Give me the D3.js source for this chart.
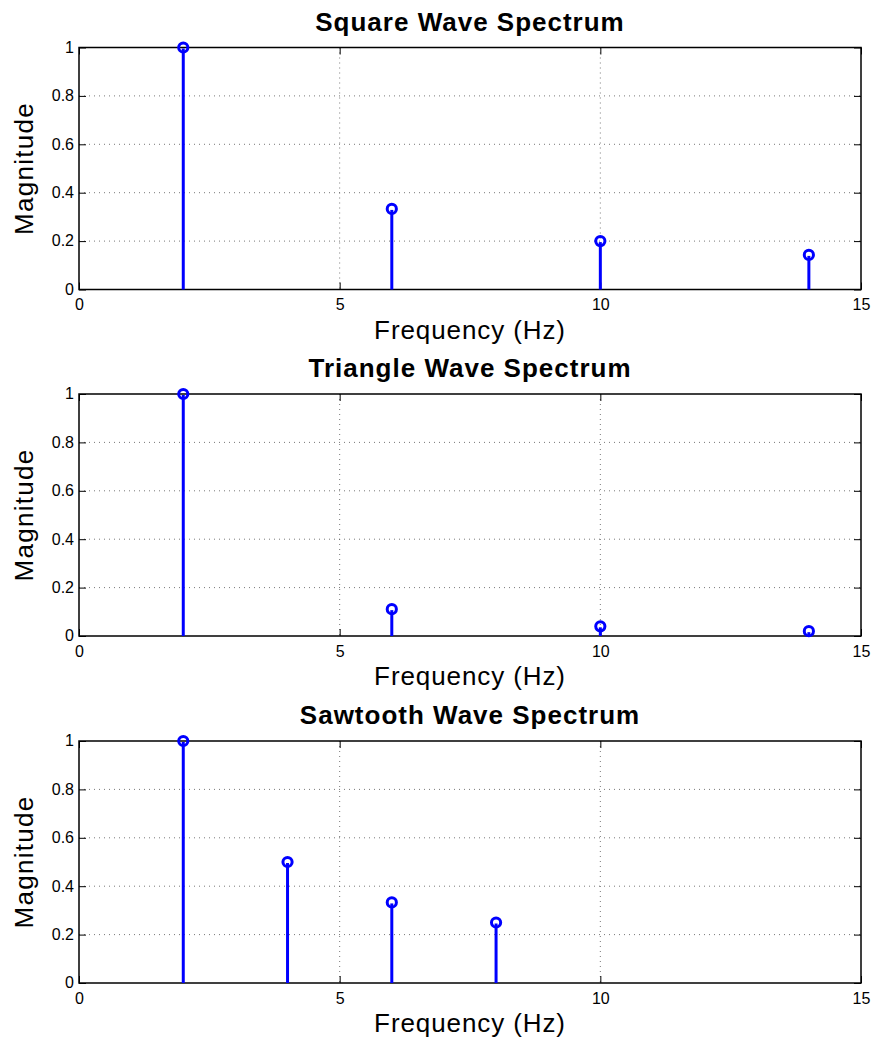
<!DOCTYPE html>
<html>
<head>
<meta charset="utf-8">
<script src="https://cdn.jsdelivr.net/npm/d3@7"></script>
<style>
  body { margin: 0; background: #fff; }
  svg { display: block; font-family: "Liberation Sans", Arial, sans-serif; }
</style>
</head>
<body>
<svg id="chart" width="875" height="1041"></svg>
<script>
// Harmonic magnitudes
const titles = ['Square Wave Spectrum', 'Triangle Wave Spectrum', 'Sawtooth Wave Spectrum'];
const squareFreq = [2, 6, 10, 14];
const squareMag = [1, 0.333, 0.2, 0.143];
const triangleFreq = [2, 6, 10, 14];
const triangleMag = [1, 0.111, 0.04, 0.02];
const sawFreq = [2, 4, 6, 8];
const sawMag = [1, 0.5, 0.333, 0.25];
const xTicks = [0, 5, 10, 15];
const yTicks = [0, 0.2, 0.4, 0.6, 0.8, 1];

const panels = [
  { title: titles[0], freq: squareFreq, mag: squareMag },
  { title: titles[1], freq: triangleFreq, mag: triangleMag },
  { title: titles[2], freq: sawFreq, mag: sawMag }
];

const svg = d3.select('#chart');
const left = 79, right = 861, plotH = 242;
const tops = [47.5, 394, 741];
const blue = '#0000ff';

panels.forEach((p, i) => {
  const top = tops[i], bottom = top + plotH;
  const x = d3.scaleLinear().domain([0, 15]).range([left, right]);
  const y = d3.scaleLinear().domain([0, 1]).range([bottom, top]);
  const g = svg.append('g');

  // dotted grid
  g.selectAll('.gx').data(xTicks.slice(1, -1)).enter().append('line')
    .attr('x1', d => x(d)).attr('x2', d => x(d))
    .attr('y1', top).attr('y2', bottom)
    .attr('stroke', '#555').attr('stroke-width', 0.8)
    .attr('stroke-dasharray', '1,4');
  g.selectAll('.gy').data(yTicks.slice(1, -1)).enter().append('line')
    .attr('x1', left).attr('x2', right)
    .attr('y1', d => y(d)).attr('y2', d => y(d))
    .attr('stroke', '#555').attr('stroke-width', 0.8)
    .attr('stroke-dasharray', '1,4');

  // axes with inward ticks
  const xAxis = d3.axisBottom(x).tickValues(xTicks).tickSize(-7);
  const yAxis = d3.axisLeft(y).tickValues(yTicks).tickSize(-7)
    .tickFormat(d => d3.format('')(+d.toFixed(1)));
  const gx = g.append('g').attr('transform', `translate(0,${bottom})`).call(xAxis);
  const gy = g.append('g').attr('transform', `translate(${left},0)`).call(yAxis);
  [gx, gy].forEach(a => {
    a.select('.domain').remove();
    a.selectAll('.tick line').attr('stroke', '#000').attr('stroke-width', 1);
    a.selectAll('.tick text').attr('font-size', 16).attr('fill', '#000');
  });
  gx.selectAll('.tick text').attr('dy', '0.35em').attr('y', 15);
  gy.selectAll('.tick text').attr('x', -5).attr('dy', '0.3em');
  // mirrored ticks on top and right
  g.append('g').attr('transform', `translate(0,${top})`)
    .call(d3.axisTop(x).tickValues(xTicks).tickSize(-7).tickFormat(''))
    .call(a => a.select('.domain').remove());
  g.append('g').attr('transform', `translate(${right},0)`)
    .call(d3.axisRight(y).tickValues(yTicks).tickSize(-7).tickFormat(''))
    .call(a => a.select('.domain').remove());

  // box
  g.append('rect').attr('x', left).attr('y', top)
    .attr('width', right - left).attr('height', plotH)
    .attr('fill', 'none').attr('stroke', '#000').attr('stroke-width', 1.5);

  // stems
  const data = p.freq.map((f, k) => ({ f, m: p.mag[k] }));
  g.selectAll('.stem').data(data).enter().append('line')
    .attr('x1', d => x(d.f)).attr('x2', d => x(d.f))
    .attr('y1', y(0)).attr('y2', d => y(d.m) + 1)
    .attr('stroke', blue).attr('stroke-width', 3);
  g.selectAll('.mark').data(data).enter().append('circle')
    .attr('cx', d => x(d.f)).attr('cy', d => y(d.m)).attr('r', 4.6)
    .attr('fill', 'none').attr('stroke', blue).attr('stroke-width', 3);

  // labels
  g.append('text').attr('x', (left + right) / 2).attr('y', top - 17)
    .attr('text-anchor', 'middle').attr('font-size', 26).attr('font-weight', 'bold')
    .attr('letter-spacing', 1)
    .text(p.title);
  g.append('text').attr('x', (left + right) / 2).attr('y', bottom + 49)
    .attr('text-anchor', 'middle').attr('font-size', 26)
    .attr('letter-spacing', 0.9)
    .text('Frequency (Hz)');
  g.append('text')
    .attr('transform', `translate(33,${(top + bottom) / 2}) rotate(-90)`)
    .attr('text-anchor', 'middle').attr('font-size', 26)
    .attr('letter-spacing', 1.3)
    .text('Magnitude');
});
</script>
</body>
</html>
